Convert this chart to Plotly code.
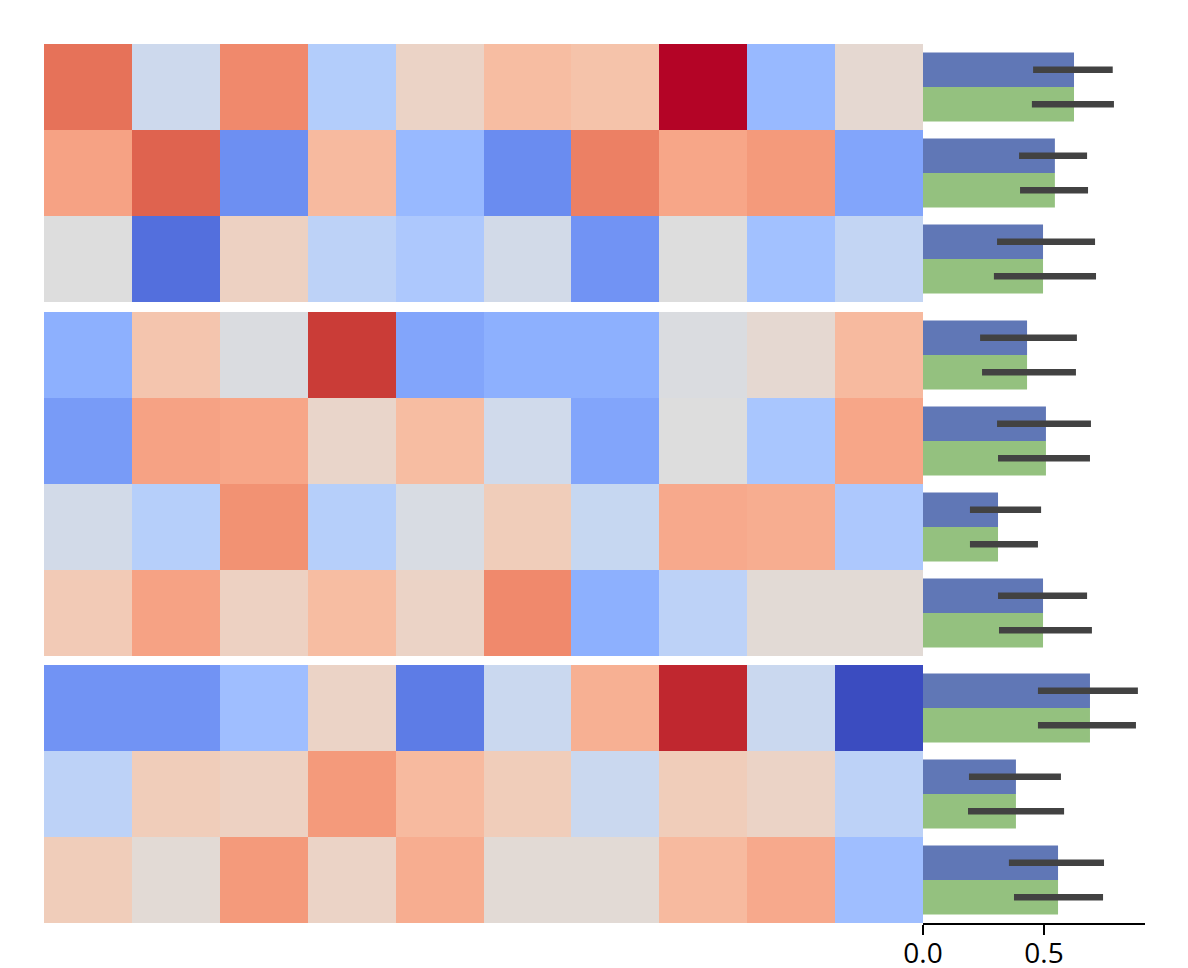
import plotly.graph_objects as go

# ---------------- data ----------------
columns = [f"c{i}" for i in range(1, 11)]
group1 = [
    [0.84, 0.44, 0.79, 0.36, 0.56, 0.65, 0.63, 1.00, 0.28, 0.53],
    [0.73, 0.87, 0.16, 0.66, 0.28, 0.15, 0.81, 0.72, 0.75, 0.22],
    [0.50, 0.08, 0.57, 0.39, 0.34, 0.46, 0.17, 0.50, 0.31, 0.41],
]
group2 = [
    [0.25, 0.62, 0.49, 0.94, 0.22, 0.25, 0.25, 0.49, 0.53, 0.66],
    [0.19, 0.73, 0.72, 0.55, 0.65, 0.45, 0.22, 0.50, 0.33, 0.72],
    [0.46, 0.37, 0.77, 0.37, 0.48, 0.59, 0.42, 0.71, 0.70, 0.34],
    [0.60, 0.73, 0.57, 0.65, 0.56, 0.79, 0.25, 0.39, 0.52, 0.52],
]
group3 = [
    [0.17, 0.17, 0.30, 0.56, 0.11, 0.43, 0.69, 0.97, 0.43, 0.00],
    [0.39, 0.59, 0.57, 0.75, 0.66, 0.59, 0.43, 0.59, 0.56, 0.39],
    [0.59, 0.52, 0.75, 0.56, 0.70, 0.52, 0.52, 0.66, 0.71, 0.30],
]
groups = [group1, group2, group3]

# bar values per row (blue and green share the same mean)
bar_blue = [0.624, 0.545, 0.496, 0.430, 0.508, 0.310, 0.496, 0.690, 0.384, 0.558]
bar_green = [0.624, 0.545, 0.496, 0.430, 0.508, 0.310, 0.496, 0.690, 0.384, 0.558]
blue_lo = [0.455, 0.397, 0.306, 0.236, 0.306, 0.194, 0.310, 0.475, 0.190, 0.355]
blue_hi = [0.784, 0.678, 0.711, 0.636, 0.694, 0.488, 0.678, 0.888, 0.570, 0.748]
green_lo = [0.450, 0.401, 0.293, 0.244, 0.310, 0.194, 0.314, 0.475, 0.186, 0.376]
green_hi = [0.789, 0.682, 0.715, 0.632, 0.690, 0.475, 0.698, 0.880, 0.583, 0.744]

x_ticks = [0.0, 0.5]
x_tick_labels = ["0.0", "0.5"]

# ---------------- style ----------------
coolwarm = [
    [0.0, "rgb(59,76,192)"], [0.03125, "rgb(68,90,204)"], [0.0625, "rgb(77,104,215)"],
    [0.09375, "rgb(87,117,225)"], [0.125, "rgb(98,130,234)"], [0.15625, "rgb(108,142,241)"],
    [0.1875, "rgb(119,154,247)"], [0.21875, "rgb(130,165,251)"], [0.25, "rgb(141,176,254)"],
    [0.28125, "rgb(152,185,255)"], [0.3125, "rgb(163,194,255)"], [0.34375, "rgb(174,201,253)"],
    [0.375, "rgb(184,208,249)"], [0.40625, "rgb(194,213,244)"], [0.4375, "rgb(204,217,238)"],
    [0.46875, "rgb(213,219,230)"], [0.5, "rgb(221,221,221)"], [0.53125, "rgb(229,216,209)"],
    [0.5625, "rgb(236,211,197)"], [0.59375, "rgb(241,204,184)"], [0.625, "rgb(245,196,172)"],
    [0.65625, "rgb(247,187,160)"], [0.6875, "rgb(247,177,148)"], [0.71875, "rgb(247,166,137)"],
    [0.75, "rgb(244,154,123)"], [0.78125, "rgb(241,141,111)"], [0.8125, "rgb(236,127,99)"],
    [0.84375, "rgb(229,112,88)"], [0.875, "rgb(222,96,77)"], [0.90625, "rgb(213,80,66)"],
    [0.9375, "rgb(203,62,56)"], [0.96875, "rgb(192,40,47)"], [1.0, "rgb(180,4,38)"],
]
BLUE = "#6077b6"
GREEN = "#94c17f"
ERR = "rgb(66,66,66)"

W, H = 1188, 968
hm_x0, hm_x1 = 44 / W, 923 / W
bar_x0, bar_x1 = 923 / W, 1145 / W
# group pixel extents (top, bottom)
group_px = [(44, 302), (312, 656), (665, 923)]
x_max = (1145 - 923) / 242.0

fig = go.Figure()
row_offset = 0
for gi, (grp, (top, bot)) in enumerate(zip(groups, group_px)):
    n = len(grp)
    ydom = [1 - bot / H, 1 - top / H]
    hx = "x" if gi == 0 else f"x{2*gi+1}"
    hy = "y" if gi == 0 else f"y{2*gi+1}"
    bx = f"x{2*gi+2}"
    by = f"y{2*gi+2}"
    fig.add_trace(go.Heatmap(
        z=grp, x=list(range(len(columns))), y=list(range(n)),
        colorscale=coolwarm, zmin=0, zmax=1, showscale=False,
        xaxis=hx, yaxis=hy, hoverinfo="skip",
    ))
    rows = list(range(n))
    bv = bar_blue[row_offset:row_offset + n]
    gv = bar_green[row_offset:row_offset + n]
    fig.add_trace(go.Bar(
        x=bv, y=rows, orientation="h", width=0.4, offset=-0.4,
        marker=dict(color=BLUE, line=dict(width=0)),
        xaxis=bx, yaxis=by, showlegend=False,
    ))
    fig.add_trace(go.Bar(
        x=gv, y=rows, orientation="h", width=0.4, offset=0.0,
        marker=dict(color=GREEN, line=dict(width=0)),
        xaxis=bx, yaxis=by, showlegend=False,
    ))
    ex, ey = [], []
    for k in range(n):
        i = row_offset + k
        ex += [blue_lo[i], blue_hi[i], None, green_lo[i], green_hi[i], None]
        ey += [k - 0.2, k - 0.2, None, k + 0.2, k + 0.2, None]
    fig.add_trace(go.Scatter(
        x=ex, y=ey, mode="lines", line=dict(color=ERR, width=6.5),
        xaxis=bx, yaxis=by, showlegend=False, hoverinfo="skip",
    ))

    hxkey = "xaxis" if gi == 0 else f"xaxis{2*gi+1}"
    hykey = "yaxis" if gi == 0 else f"yaxis{2*gi+1}"
    fig.layout[hxkey] = dict(domain=[hm_x0, hm_x1], range=[-0.5, len(columns) - 0.5],
                             showgrid=False, zeroline=False, showticklabels=False,
                             ticks="", showline=False, anchor=hy, automargin=False)
    fig.layout[hykey] = dict(domain=ydom, range=[n - 0.5, -0.5],
                             showgrid=False, zeroline=False, showticklabels=False,
                             ticks="", showline=False, anchor=hx, automargin=False)
    is_bottom = gi == 2
    fig.layout[f"xaxis{2*gi+2}"] = dict(
        domain=[bar_x0, bar_x1], range=[0, x_max], anchor=by, automargin=False,
        showgrid=False, zeroline=False,
        showline=is_bottom, linecolor="black", linewidth=2,
        ticks="outside" if is_bottom else "", ticklen=10, tickwidth=2, tickcolor="black",
        tickvals=x_ticks, ticktext=x_tick_labels, showticklabels=is_bottom,
        ticklabelstandoff=-6,
        tickfont=dict(family="Open Sans", size=28, color="black"),
    )
    fig.layout[f"yaxis{2*gi+2}"] = dict(
        domain=ydom, range=[n - 0.5, -0.5], anchor=bx, automargin=False,
        showgrid=False, zeroline=False, showticklabels=False, ticks="", showline=False,
    )
    row_offset += n

fig.update_layout(
    width=W, height=H,
    margin=dict(l=0, r=0, t=0, b=0, pad=0, autoexpand=False),
    paper_bgcolor="white", plot_bgcolor="rgba(0,0,0,0)",
    showlegend=False, barmode="overlay",
)

fig.write_html("out.html")
